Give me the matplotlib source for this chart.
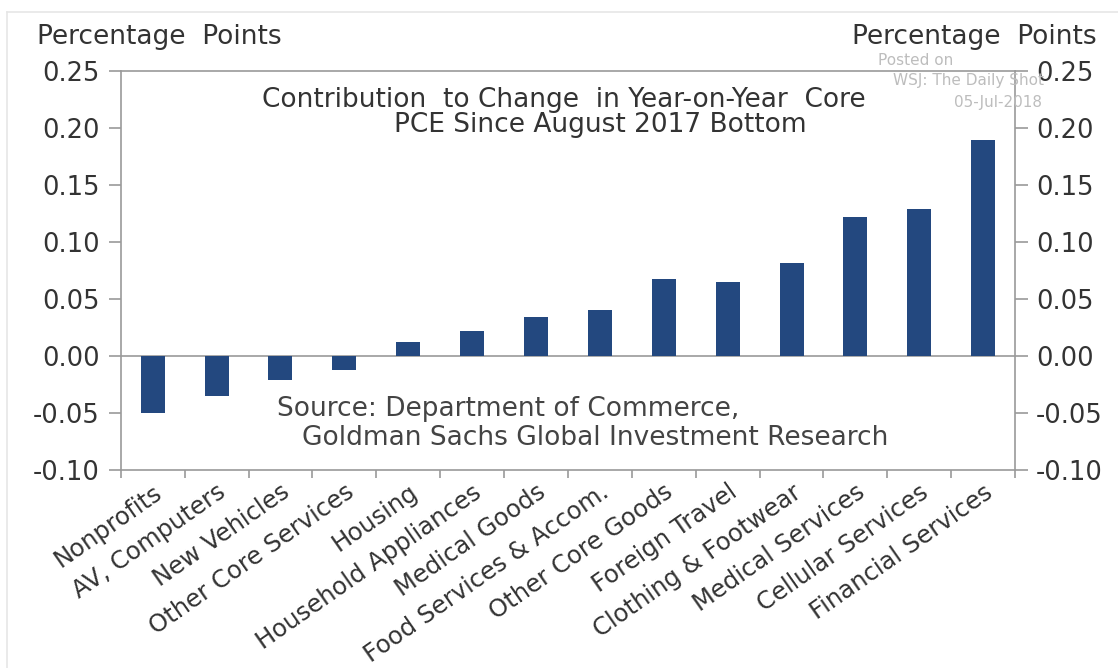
import numpy as np
import matplotlib
matplotlib.use("Agg")
import matplotlib.pyplot as plt
from matplotlib.ticker import FormatStrFormatter, FixedLocator
from matplotlib.lines import Line2D

# contribution to change in y/y core PCE, percentage points
categories = ['Nonprofits', 'AV, Computers', 'New Vehicles', 'Other Core Services',
              'Housing', 'Household Appliances', 'Medical Goods', 'Food Services & Accom.',
              'Other Core Goods', 'Foreign Travel', 'Clothing & Footwear',
              'Medical Services', 'Cellular Services', 'Financial Services']
contribution = [-0.050, -0.035, -0.021, -0.012, 0.012, 0.022, 0.034, 0.040,
                0.068, 0.065, 0.082, 0.122, 0.129, 0.189]
y_ticks = [-0.10, -0.05, 0.00, 0.05, 0.10, 0.15, 0.20, 0.25]

plt.rcParams['axes.unicode_minus'] = False
plt.rcParams['font.family'] = ['DejaVu Sans']

bar_color = '#23487f'
spine_color = '#9a9a9a'
text_color = '#333333'

fig = plt.figure(figsize=(11.18, 6.68), dpi=100)
ax = fig.add_axes([0.108, 0.296, 0.800, 0.598])

x = np.arange(len(categories))
ax.bar(x, contribution, width=0.375, color=bar_color, zorder=3)
ax.axhline(0, color=spine_color, lw=1.2, zorder=2)

ax.set_xlim(-0.5, len(categories) - 0.5)
ax.set_ylim(-0.10, 0.25)
ax.set_yticks(y_ticks)
ax.yaxis.set_major_formatter(FormatStrFormatter('%.2f'))

# labels under each bar, small ticks between the categories
ax.set_xticks(x)
ax.set_xticklabels(categories, rotation=35, ha='right', va='top',
                   rotation_mode='anchor', fontsize=17.5, color=text_color)
ax.xaxis.set_minor_locator(FixedLocator(np.arange(-0.5, len(categories), 1.0)))
ax.tick_params(axis='x', which='major', length=0, pad=7)
ax.tick_params(axis='x', which='minor', length=6, color=spine_color, width=1.2)
ax.tick_params(axis='y', which='major', left=True, right=True, labelleft=True,
               labelright=True, length=9, width=1.2, color=spine_color,
               labelsize=18.5, labelcolor=text_color, pad=6)

for side in ['left', 'right', 'top', 'bottom']:
    ax.spines[side].set_color(spine_color)
    ax.spines[side].set_linewidth(1.2)

# axis unit labels on both sides
fig.text(0.033, 0.945, 'Percentage  Points', fontsize=19, color=text_color,
         ha='left', va='center')
fig.text(0.981, 0.945, 'Percentage  Points', fontsize=19, color=text_color,
         ha='right', va='center')

# chart title inside the plot
ax.text(0.495, 0.927, 'Contribution  to Change  in Year-on-Year  Core', transform=ax.transAxes,
        fontsize=19, color=text_color, ha='center', va='center')
ax.text(0.536, 0.865, 'PCE Since August 2017 Bottom', transform=ax.transAxes,
        fontsize=19, color=text_color, ha='center', va='center')

# source note
ax.text(0.175, 0.153, 'Source: Department of Commerce,', transform=ax.transAxes,
        fontsize=19, color='#444444', ha='left', va='center')
ax.text(0.203, 0.080, 'Goldman Sachs Global Investment Research', transform=ax.transAxes,
        fontsize=19, color='#444444', ha='left', va='center')

# posting stamp
stamp_color = '#bdbdbd'
fig.text(0.819, 0.910, 'Posted on', fontsize=11, color=stamp_color, ha='center', va='center')
fig.text(0.866, 0.880, 'WSJ: The Daily Shot', fontsize=11, color=stamp_color, ha='center', va='center')
fig.text(0.893, 0.847, '05-Jul-2018', fontsize=11, color=stamp_color, ha='center', va='center')

# faint frame along the left and top edges
fig.add_artist(Line2D([0.006, 0.006], [0.0, 0.982], transform=fig.transFigure,
                      color='#e6e6e6', lw=1.2))
fig.add_artist(Line2D([0.006, 1.0], [0.982, 0.982], transform=fig.transFigure,
                      color='#e6e6e6', lw=1.2))

fig.savefig('out.png', dpi=100, facecolor='white')
